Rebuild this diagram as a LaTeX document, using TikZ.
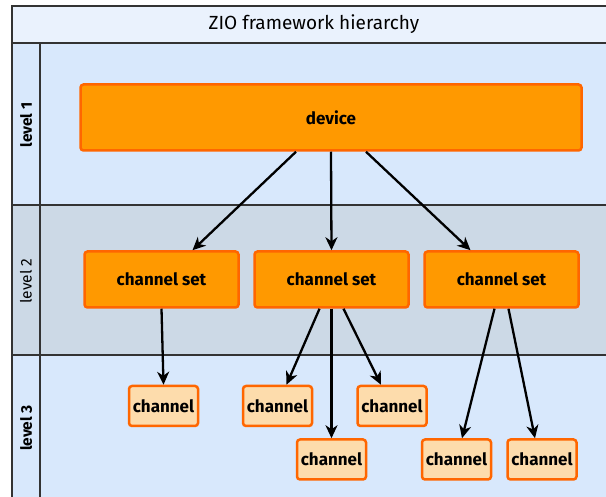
\documentclass[tikz,border=0pt]{standalone}
\usepackage{fontspec}
\setsansfont{Fira Sans}
\usetikzlibrary{arrows.meta,positioning,calc}

\definecolor{titlefill}{HTML}{EAF2FD}
\definecolor{levelfill}{HTML}{D8E8FC}
\definecolor{midfill}{HTML}{CCD9E6}
\definecolor{boxfill}{HTML}{FF9900}
\definecolor{boxline}{HTML}{FF6600}
\definecolor{chanfill}{HTML}{FDDCAC}
\definecolor{frameline}{HTML}{333333}

\begin{document}
\begin{tikzpicture}[
    x=1pt, y=-1pt,
    block/.style={draw=boxline, fill=boxfill, line width=2.5pt, rounded corners=3pt, inner sep=0pt, font=\sffamily\bfseries\fontsize{17}{20}\selectfont},
    setbox/.style={block, minimum width=154pt, minimum height=56pt},
    chanbox/.style={block, fill=chanfill, minimum width=69pt, minimum height=40pt},
    arrow/.style={-{Stealth[length=13pt, width=12pt, inset=4pt]}, line width=2.3pt},
    band/.style={draw=frameline, line width=1.2pt},
    levellabel/.style={rotate=90, font=\sffamily\bfseries\fontsize{15.5}{18}\selectfont}
]
\useasboundingbox (0,0) rectangle (606,497);
\clip (0,0) rectangle (606,497);

% Swimlane background
\fill[titlefill] (12,6) rectangle (620,43);
\fill[levelfill] (12,43) rectangle (620,205);
\fill[midfill] (12,205) rectangle (620,355);
\fill[levelfill] (12,355) rectangle (620,510);
\draw[band] (12,510) |- (620,6);
\draw[band] (12,43) -- (620,43);
\draw[band] (12,205) -- (620,205);
\draw[band] (12,355) -- (620,355);
\draw[band] (40,43) -- (40,510);

\node[font=\sffamily\fontsize{19}{22}\selectfont] (title) at (314,24) {ZIO framework hierarchy};
\node[levellabel] (lvl1) at (26,125) {level 1};
\node[levellabel, font=\sffamily\fontsize{15.5}{18}\selectfont] (lvl2) at (26,281) {level 2};
\node[levellabel] (lvl3) at (26,428) {level 3};

% Level 1
\node[block, minimum width=501pt, minimum height=66pt] (device) at (331,117.5) {device};

% Level 2
\node[setbox] (cset2) at (331.5,279.5) {channel set};
\node[setbox, left=13.5pt of cset2] (cset1) {channel set};
\node[setbox, right=13.5pt of cset2] (cset3) {channel set};
\draw[arrow] ([xshift=-35pt]device.south) -- ([xshift=31pt]cset1.north);
\draw[arrow] (device.south) -- (cset2.north);
\draw[arrow] ([xshift=35pt]device.south) -- ([xshift=-31pt]cset3.north);

% Level 3
\node[chanbox] (chan1) at (163.5,406) {channel};
\node[chanbox] (chan2) at (277.5,406) {channel};
\node[chanbox] (chan3) at (392,406) {channel};
\node[chanbox] (chan4) at (331.5,459.5) {channel};
\node[chanbox] (chan5) at (456.5,459.5) {channel};
\node[chanbox] (chan6) at (542,459.5) {channel};
\draw[arrow] (cset1.south) -- (chan1.north);
\draw[arrow] ([xshift=-12pt]cset2.south) -- ([xshift=9pt]chan2.north);
\draw[arrow] (cset2.south) -- (chan4.north);
\draw[arrow] ([xshift=12pt]cset2.south) -- ([xshift=-11pt]chan3.north);
\draw[arrow] ([xshift=-7pt]cset3.south) -- ([xshift=5.5pt]chan5.north);
\draw[arrow] ([xshift=7pt]cset3.south) -- ([xshift=-7pt]chan6.north);

\end{tikzpicture}
\end{document}
